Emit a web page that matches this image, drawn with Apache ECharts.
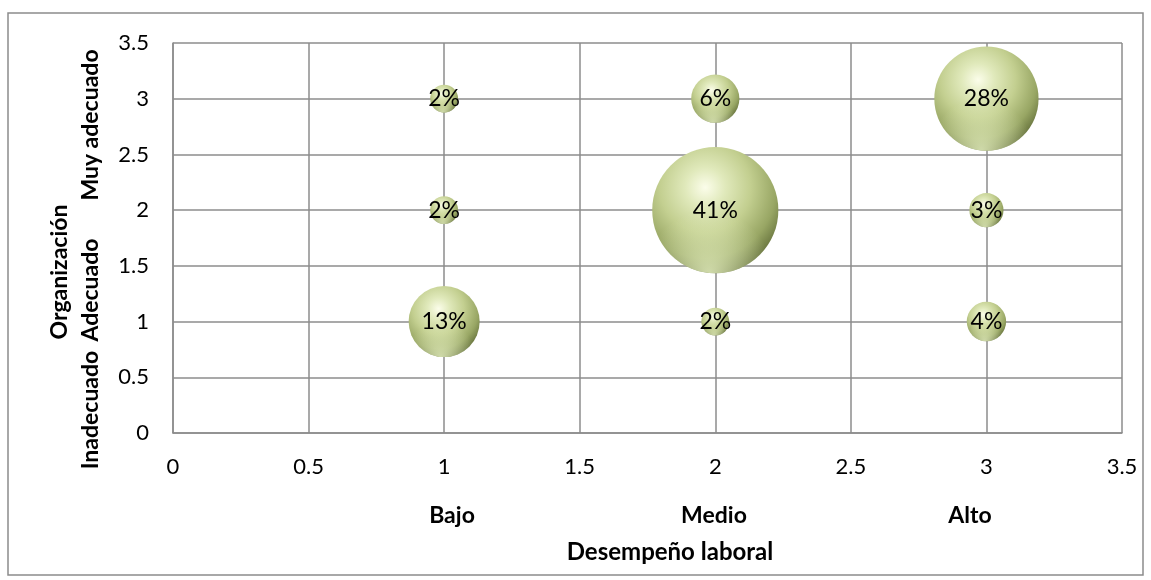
<!DOCTYPE html>
<html>
<head>
<meta charset="utf-8">
<script src="https://cdn.jsdelivr.net/npm/echarts@6/dist/echarts.min.js"></script>
<style>
html,body{margin:0;padding:0;background:#fff;}
#c{width:1151px;height:580px;}
</style>
</head>
<body>
<div id="c"></div>
<script>
// Data
var xValues = [1, 1, 1, 2, 2, 2, 3, 3, 3];
var yValues = [3, 2, 1, 3, 2, 1, 3, 2, 1];
var pctValues = [2, 2, 13, 6, 41, 2, 28, 3, 4];
var xTickLabels = ['0', '0.5', '1', '1.5', '2', '2.5', '3', '3.5'];
var yTickLabels = ['0', '0.5', '1', '1.5', '2', '2.5', '3', '3.5'];
var xCategoryWords = ['Bajo', 'Medio', 'Alto'];
var yCategoryWords = ['Inadecuado', 'Adecuado', 'Muy adecuado'];
var xTitle = 'Desempeño laboral';
var yTitle = 'Organización';

var data = xValues.map(function (x, i) { return [x, yValues[i], pctValues[i]]; });

var FONT = 'Lato';
var TFONT = 'bold 23px Lato';
var chart = echarts.init(document.getElementById('c'), null, {renderer: 'canvas'});
var sizeFn = function (v) { return 19.7 * Math.sqrt(v[2]); };

var option = {
  animation: false,
  backgroundColor: '#ffffff',
  grid: {left: 173, right: 29, top: 43, bottom: 147, containLabel: false},
  xAxis: {
    type: 'value', min: 0, max: 3.5, interval: 0.5,
    axisLine: {show: true, lineStyle: {color: '#8c8c8c', width: 1.5}},
    axisTick: {show: false},
    splitLine: {show: true, lineStyle: {color: '#8c8c8c', width: 1.5}},
    axisLabel: {color: '#000', fontFamily: FONT, fontSize: 22, margin: 23,
      formatter: function (v) { var i = Math.round(v / 0.5); return xTickLabels[i]; }}
  },
  yAxis: {
    type: 'value', min: 0, max: 3.5, interval: 0.5,
    axisLine: {show: true, lineStyle: {color: '#8c8c8c', width: 1.5}},
    axisTick: {show: false},
    splitLine: {show: true, lineStyle: {color: '#8c8c8c', width: 1.5}},
    axisLabel: {color: '#000', fontFamily: FONT, fontSize: 22, margin: 24,
      formatter: function (v) { var i = Math.round(v / 0.5); return yTickLabels[i]; }}
  },
  series: [
    {
      type: 'scatter',
      data: data,
      symbolSize: sizeFn,
      itemStyle: {
        opacity: 1,
        color: {
          type: 'radial', x: 0.42, y: 0.32, r: 0.72,
          colorStops: [
            {offset: 0, color: '#fbfdea'},
            {offset: 0.22, color: '#e0e9bb'},
            {offset: 0.5, color: '#c3cf90'},
            {offset: 0.78, color: '#98a664'},
            {offset: 1, color: '#5e6a36'}
          ]
        }
      },
      z: 2
    },
    {
      type: 'scatter',
      data: data,
      symbolSize: sizeFn,
      silent: true,
      itemStyle: {
        opacity: 1,
        color: {
          type: 'radial', x: 0.45, y: 1.0, r: 0.5,
          colorStops: [
            {offset: 0, color: 'rgba(232,242,196,0.8)'},
            {offset: 1, color: 'rgba(232,242,196,0)'}
          ]
        }
      },
      label: {
        show: true, position: 'inside', color: '#000', fontFamily: FONT, fontSize: 23,
        formatter: function (p) { return p.value[2] + '%'; }
      },
      z: 3
    }
  ],
  graphic: [
    {type: 'rect', shape: {x: 8, y: 13, width: 1135, height: 562}, style: {fill: 'none', stroke: '#8c8c8c', lineWidth: 1.5}, z: -1},
    {type: 'text', x: 452, y: 516, style: {text: xCategoryWords[0], font: TFONT, fill: '#000', textAlign: 'center', textVerticalAlign: 'middle'}},
    {type: 'text', x: 714, y: 516, style: {text: xCategoryWords[1], font: TFONT, fill: '#000', textAlign: 'center', textVerticalAlign: 'middle'}},
    {type: 'text', x: 970, y: 516, style: {text: xCategoryWords[2], font: TFONT, fill: '#000', textAlign: 'center', textVerticalAlign: 'middle'}},
    {type: 'text', x: 670, y: 552, style: {text: xTitle, font: 'bold 24px Lato', fill: '#000', textAlign: 'center', textVerticalAlign: 'middle'}},
    {type: 'text', x: 60, y: 272, rotation: Math.PI / 2, style: {text: yTitle, font: TFONT, fill: '#000', textAlign: 'center', textVerticalAlign: 'middle'}},
    {type: 'text', x: 91, y: 410, rotation: Math.PI / 2, style: {text: yCategoryWords[0], font: TFONT, fill: '#000', textAlign: 'center', textVerticalAlign: 'middle'}},
    {type: 'text', x: 91, y: 290, rotation: Math.PI / 2, style: {text: yCategoryWords[1], font: TFONT, fill: '#000', textAlign: 'center', textVerticalAlign: 'middle'}},
    {type: 'text', x: 91, y: 125, rotation: Math.PI / 2, style: {text: yCategoryWords[2], font: TFONT, fill: '#000', textAlign: 'center', textVerticalAlign: 'middle'}}
  ]
};
chart.setOption(option);
</script>
</body>
</html>
